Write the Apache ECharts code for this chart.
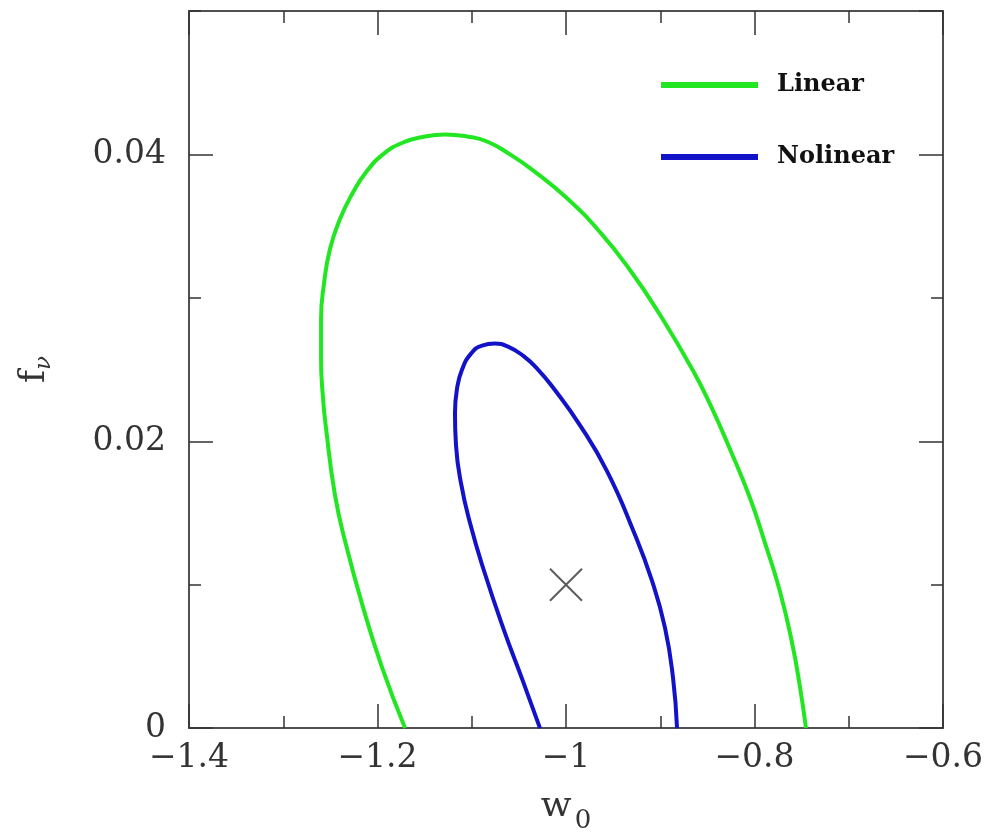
<!DOCTYPE html>
<html>
<head>
<meta charset="utf-8">
<script src="https://cdn.jsdelivr.net/npm/echarts@6/dist/echarts.min.js"></script>
<style>
  html, body { margin: 0; padding: 0; background: #fff; }
  #main { width: 991px; height: 839px; }
</style>
</head>
<body>
<div id="main"></div>
<script>
// contours: w0 (x) and f_nu (y)
var linearW = [-1.1708, -1.1952, -1.2143, -1.2334, -1.2451, -1.2546, -1.2578, -1.2599, -1.2599, -1.2568, -1.2504, -1.2398, -1.2271, -1.2122, -1.1942, -1.1729, -1.1496, -1.1284, -1.1050, -1.0838, -1.0594, -1.0350, -0.9989, -0.9639, -0.9321, -0.9003, -0.8653, -0.8451, -0.8260, -0.8048, -0.7889, -0.7729, -0.7602, -0.7517, -0.7454];
var linearF = [0, 0.00424, 0.00819, 0.01278, 0.01625, 0.0209, 0.02299, 0.02576, 0.02854, 0.03097, 0.0334, 0.03549, 0.03722, 0.03875, 0.0400, 0.04083, 0.04125, 0.04139, 0.04125, 0.0409, 0.0400, 0.03889, 0.03694, 0.03458, 0.03194, 0.02882, 0.02493, 0.02229, 0.01944, 0.01604, 0.01292, 0.00951, 0.00597, 0.00285, 0];

var nolinearW = [-1.0276, -1.0456, -1.0668, -1.0870, -1.1019, -1.1114, -1.1167, -1.1178, -1.1156, -1.1103, -1.1008, -1.0891, -1.0753, -1.0615, -1.0456, -1.0297, -1.0138, -0.9851, -0.9565, -0.9289, -0.9088, -0.8950, -0.8865, -0.8822];
var nolinearF = [0, 0.00326, 0.00701, 0.01097, 0.01431, 0.01708, 0.01972, 0.02194, 0.02368, 0.0250, 0.02611, 0.02667, 0.02681, 0.0266, 0.02597, 0.0250, 0.02375, 0.02111, 0.01792, 0.01382, 0.01028, 0.00701, 0.00354, 0];

// fiducial model
var fiducial = [[-1.0, 0.01]];

var xTicks = [-1.4, -1.2, -1.0, -0.8, -0.6];
var yTicks = [0, 0.02, 0.04];

function pairs(xs, ys) {
  return xs.map(function (x, i) { return [x, ys[i]]; });
}

var serif = 'DejaVu Serif';
var lineCol = '#505050';
var tickCol = '#333';

function fmtX(v) {
  var r = Math.round(v * 10) / 10;
  return (r < 0 ? '\u2212' : '') + String(Math.abs(r));
}
function fmtY(v) {
  var r = Math.round(v * 100) / 100;
  return yTicks.indexOf(r) >= 0 ? String(r) : '';
}

// one side of the box frame
function xSide(pos, labels) {
  return {
    type: 'value', position: pos,
    min: xTicks[0], max: xTicks[xTicks.length - 1], interval: 0.2,
    axisLine: { show: true, onZero: false, lineStyle: { color: lineCol, width: 2 } },
    axisTick: { show: true, inside: true, length: 24, lineStyle: { color: tickCol, width: 1.5 } },
    minorTick: { show: true, splitNumber: 2, length: 12, lineStyle: { color: tickCol, width: 1.5 } },
    splitLine: { show: false },
    axisLabel: { show: labels, formatter: fmtX, fontFamily: serif, fontSize: 33, color: '#333', margin: 14 }
  };
}
function ySide(pos, major, labels) {
  return {
    type: 'value', position: pos,
    min: 0, max: 0.05, interval: major ? 0.02 : 0.01,
    axisLine: { show: !major, onZero: false, lineStyle: { color: lineCol, width: 2 } },
    axisTick: { show: true, inside: true, length: major ? 24 : 12, lineStyle: { color: tickCol, width: 1.5 } },
    splitLine: { show: false },
    axisLabel: { show: labels, showMaxLabel: false, formatter: fmtY, fontFamily: serif, fontSize: 33, color: '#333', margin: 23 }
  };
}

var xBottom = xSide('bottom', true);
xBottom.name = '{a|w}{b|0}';
xBottom.nameLocation = 'middle';
xBottom.nameGap = 29;
xBottom.nameTextStyle = {
  rich: {
    a: { fontFamily: serif, fontSize: 36, color: '#333', lineHeight: 40 },
    b: { fontFamily: serif, fontSize: 26, color: '#333', lineHeight: 40, padding: [28, 0, 0, 3] }
  }
};

var yLeft = ySide('left', true, true);
yLeft.name = '{a|f}{b|\u03bd}';
yLeft.nameLocation = 'middle';
yLeft.nameRotate = 90;
yLeft.nameGap = 134;
yLeft.nameTextStyle = {
  rich: {
    a: { fontFamily: serif, fontSize: 35, color: '#333', lineHeight: 40 },
    b: { fontFamily: serif, fontStyle: 'italic', fontSize: 23, color: '#333', lineHeight: 40, padding: [18, 0, 0, 0] }
  }
};

var chart = echarts.init(document.getElementById('main'), null, { renderer: 'canvas' });
chart.setOption({
  animation: false,
  backgroundColor: '#fff',
  grid: { left: 189, right: 48, top: 11, bottom: 108 },
  legend: {
    orient: 'vertical',
    left: 661, top: 73, padding: 0,
    itemWidth: 97, itemHeight: 6, itemGap: 48,
    icon: 'rect',
    data: ['Linear', 'Nolinear'],
    textStyle: { fontFamily: serif, fontWeight: 'bold', fontSize: 24, color: '#111', lineHeight: 24, padding: [0, 0, 0, 14] }
  },
  xAxis: [xBottom, xSide('top', false)],
  yAxis: [yLeft, ySide('left', false, false), ySide('right', true, false), ySide('right', false, false)],
  series: [
    {
      name: 'Linear', type: 'line', xAxisIndex: 0, yAxisIndex: 0,
      data: pairs(linearW, linearF), smooth: 0.5, showSymbol: false,
      lineStyle: { color: '#22e622', width: 4 }, itemStyle: { color: '#22e622' }
    },
    {
      name: 'Nolinear', type: 'line', xAxisIndex: 0, yAxisIndex: 0,
      data: pairs(nolinearW, nolinearF), smooth: 0.5, showSymbol: false,
      lineStyle: { color: '#1212c8', width: 4 }, itemStyle: { color: '#1212c8' }
    },
    {
      name: 'fiducial', type: 'scatter', xAxisIndex: 0, yAxisIndex: 0,
      data: fiducial,
      symbol: 'path://M0,0L10,10M10,0L0,10', symbolSize: 32,
      itemStyle: { color: 'none', borderColor: '#333', borderWidth: 2 }
    }
  ]
});
</script>
</body>
</html>
